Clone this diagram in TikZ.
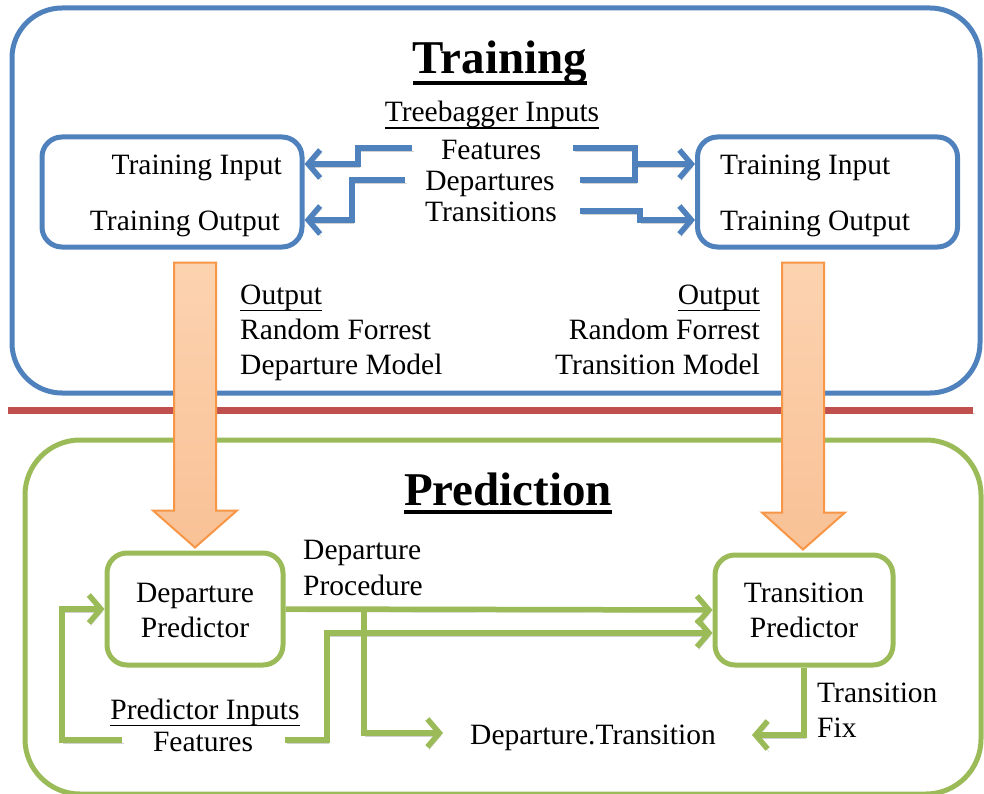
\documentclass[tikz,border=0pt]{standalone}
\usepackage{fontspec}
\setmainfont{Liberation Serif}
\usetikzlibrary{arrows.meta,calc}
\definecolor{oblue}{HTML}{4F81BD}
\definecolor{ogreen}{HTML}{9BBB59}
\definecolor{ored}{HTML}{C0504D}
\definecolor{oorange}{HTML}{F79646}
\definecolor{opeachA}{HTML}{FCD3B0}
\definecolor{opeachB}{HTML}{F9C196}
\newcommand{\ulx}[3]{\setbox0\hbox{#1}\rlap{\rule[-#2]{\wd0}{#3}}\box0}
\begin{document}
\begin{tikzpicture}[x=1pt,y=-1pt,
  every node/.style={inner sep=0pt, font=\rmfamily\fontsize{29.5}{35}\selectfont},
  titletext/.style={font=\rmfamily\fontsize{47}{50}\selectfont\bfseries},
  shad/.style={preaction={draw=black, draw opacity=0.18, transform canvas={shift={(1.5pt,-3pt)}}}},
  bbox/.style={draw=oblue, line width=5pt, rounded corners=20pt},
  gbox/.style={draw=ogreen, line width=5pt, rounded corners=20pt},
  barrow/.style={draw=oblue, line width=5.5pt, -{Straight Barb[length=12pt,width=28pt]}},
  bline/.style={draw=oblue, line width=5.5pt},
  garrow/.style={draw=ogreen, line width=5.5pt, -{Straight Barb[length=12pt,width=28pt]}},
  gline/.style={draw=ogreen, line width=5.5pt},
  bigarrow/.style={draw=oorange, line width=2pt, top color=opeachA, bottom color=opeachB, line join=miter},
]
\useasboundingbox (0,0) rectangle (984,794);
\begin{scope}
\clip (0,0) rectangle (984,794);
% frames
\draw[draw=oblue, line width=5pt, rounded corners=50pt] (12,8) rectangle (980,393);
\draw[draw=ored, line width=7pt, shad] (8,410) -- (973,410);
\draw[draw=ogreen, line width=5pt, rounded corners=55pt] (25,440) rectangle (981,794);

% Training section
\node[titletext, anchor=base] (ttl) at (500,74) {\ulx{Training}{11pt}{4pt}};
\node[anchor=base] (tbi) at (492,122) {\ulx{Treebagger Inputs}{7pt}{1.8pt}};

\node[bbox, minimum width=260pt, minimum height=110pt] (lbox) at (172,192) {};
\node[bbox, minimum width=260pt, minimum height=110pt] (rbox) at (827.5,192) {};
\node[anchor=base east] (lin) at (282,175) {Training Input};
\node[anchor=base east] (lout) at (280,231) {Training Output};
\node[anchor=base west] (rin) at (720,175) {Training Input};
\node[anchor=base west] (rout) at (720,231) {Training Output};

\node[anchor=base] (feat) at (491,160) {Features};
\node[anchor=base] (dep) at (490,191) {Departures};
\node[anchor=base] (tra) at (491,222) {Transitions};

\coordinate (fL) at (412,148);
\coordinate (dL) at (405,180);
\coordinate (fR) at (573,148);
\coordinate (dR) at (580,180);
\coordinate (tR) at (580,211);
\coordinate (jR) at (635,164);

\draw[barrow, shad] (fL) -- ++(-54,0) |- ([yshift=28pt]lbox.east);
\draw[barrow, shad] (dL) -- ++(-53,0) |- ([yshift=-28pt]lbox.east);
\draw[bline, shad] (fR) -| (jR) |- (dR);
\draw[barrow, shad] (jR) -- ([yshift=28pt]rbox.west);
\draw[barrow, shad] (tR) -- ++(60,0) |- ([yshift=-28pt]rbox.west);

\node[anchor=base west] (o1) at (240,304) {\ulx{Output}{7pt}{1.5pt}};
\node[anchor=base west] (o2) at (240,339) {Random Forrest};
\node[anchor=base west] (o3) at (240,374) {Departure Model};
\node[anchor=base east] (p1) at (760,304) {\ulx{Output}{7pt}{1.5pt}};
\node[anchor=base east] (p2) at (760,339) {Random Forrest};
\node[anchor=base east] (p3) at (760,374) {Transition Model};

% Prediction section
\node[titletext, anchor=base] (ptl) at (508,505) {\ulx{Prediction}{9pt}{4pt}};

\node[gbox, minimum width=176pt, minimum height=112pt] (dp) at (195,609) {};
\node[gbox, minimum width=178pt, minimum height=110pt] (tp) at (804,610) {};
\node[anchor=base] (dp1) at (195,602) {Departure};
\node[anchor=base] (dp2) at (195,637) {Predictor};
\node[anchor=base] (tp1) at (804,602) {Transition};
\node[anchor=base] (tp2) at (804,637) {Predictor};

\node[anchor=base west] (dpr1) at (303,559) {Departure};
\node[anchor=base west] (dpr2) at (303,595) {Procedure};

\node[anchor=base] (pin) at (205,719) {\ulx{Predictor Inputs}{7pt}{1.5pt}};
\node[anchor=base] (pf) at (203,751) {Features};
\node[anchor=base west] (dt) at (470,744) {Departure.Transition};
\node[anchor=base west] (tf1) at (817,702) {Transition};
\node[anchor=base west] (tf2) at (817,737) {Fix};

\coordinate (fsR) at (285,740);
\coordinate (fsL) at (122,740);
\coordinate (br) at (364,610);
\coordinate (dtin) at (443,733);
\coordinate (tfend) at (752,735);

\draw[garrow, shad] (dp.east) -- (tp.west);
\draw[garrow, shad] (fsR) -- ++(42,0) |- ([yshift=-23pt]tp.west);
\draw[garrow, shad] (br) |- (dtin);
\draw[garrow, shad] (fsL) -- ++(-60,0) |- (dp.west);
\draw[garrow, shad] (tp.south) |- (tfend);

% big orange arrows
\draw[bigarrow] ([yshift=3pt]dp.north) -- ++(-42,-37) -- ++(21,0) -- ++(0,-248)
  -- ++(42,0) -- ++(0,248) -- ++(21,0) -- cycle;
\draw[bigarrow] ([yshift=3pt]tp.north) ++(-1,0) -- ++(-41,-37) -- ++(20,0) -- ++(0,-250)
  -- ++(42,0) -- ++(0,250) -- ++(21,0) -- cycle;
\end{scope}
\end{tikzpicture}
\end{document}
